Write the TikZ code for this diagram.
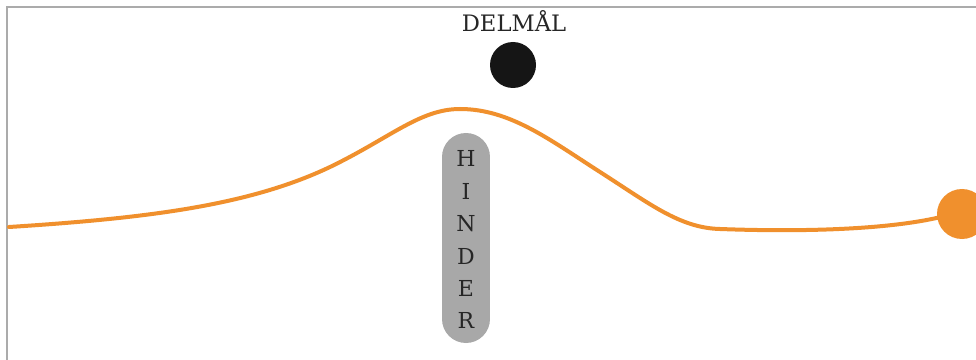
\documentclass[tikz,border=0pt]{standalone}
\usepackage{fontspec}
\setmainfont{DejaVu Serif}
\definecolor{curveorange}{HTML}{F0902D}
\definecolor{framegray}{HTML}{ABABAB}
\definecolor{pillgray}{HTML}{A8A8A8}
\definecolor{dotblack}{HTML}{151515}
\tikzset{
  frameline/.style={draw=framegray, line width=1.5pt},
  pathline/.style={draw=curveorange, line width=3pt, line cap=round},
  pill/.style={draw=pillgray, line width=36pt, line cap=round},
  lbl/.style={font=\fontsize{17}{17}\selectfont, text=black!85, inner sep=0pt},
  letter/.style={font=\fontsize{16.5}{16.5}\selectfont, text=black!85, inner sep=0pt}
}
\begin{document}
\begin{tikzpicture}[x=0.75pt,y=-0.75pt]
\useasboundingbox (0,0) rectangle (976,360);
\fill[white] (0,0) rectangle (976,360);
\begin{scope}
\clip (0,0) rectangle (976,360);
% frame
\draw[frameline] (7,360) -- (7,7) -- (976,7);
% end circle
\fill[curveorange] (962,214) circle (25);
% curve
\draw[pathline] (9,227) .. controls (150,218) and (250,205) .. (330,167)
  .. controls (390,138) and (420,109) .. (460,109)
  .. controls (510,109) and (550,140) .. (600,172)
  .. controls (650,204) and (680,228) .. (720,229)
  .. controls (800,232) and (890,230) .. (945,216);
% hinder pill
\coordinate (pilltop) at (466,157);
\coordinate (pillbot) at (466,319);
\draw[pill] (pilltop) -- (pillbot);
\node[letter] (h1) at (466,158) {H};
\node[letter] (h2) at (466,191) {I};
\node[letter] (h3) at (466,224) {N};
\node[letter] (h4) at (466,256) {D};
\node[letter] (h5) at (466,288) {E};
\node[letter] (h6) at (466,320) {R};
% delmal
\node[lbl] (delmal) at (514,21) {DELMÅL};
\fill[dotblack] (513,65) circle (23);
\end{scope}
\end{tikzpicture}
\end{document}
